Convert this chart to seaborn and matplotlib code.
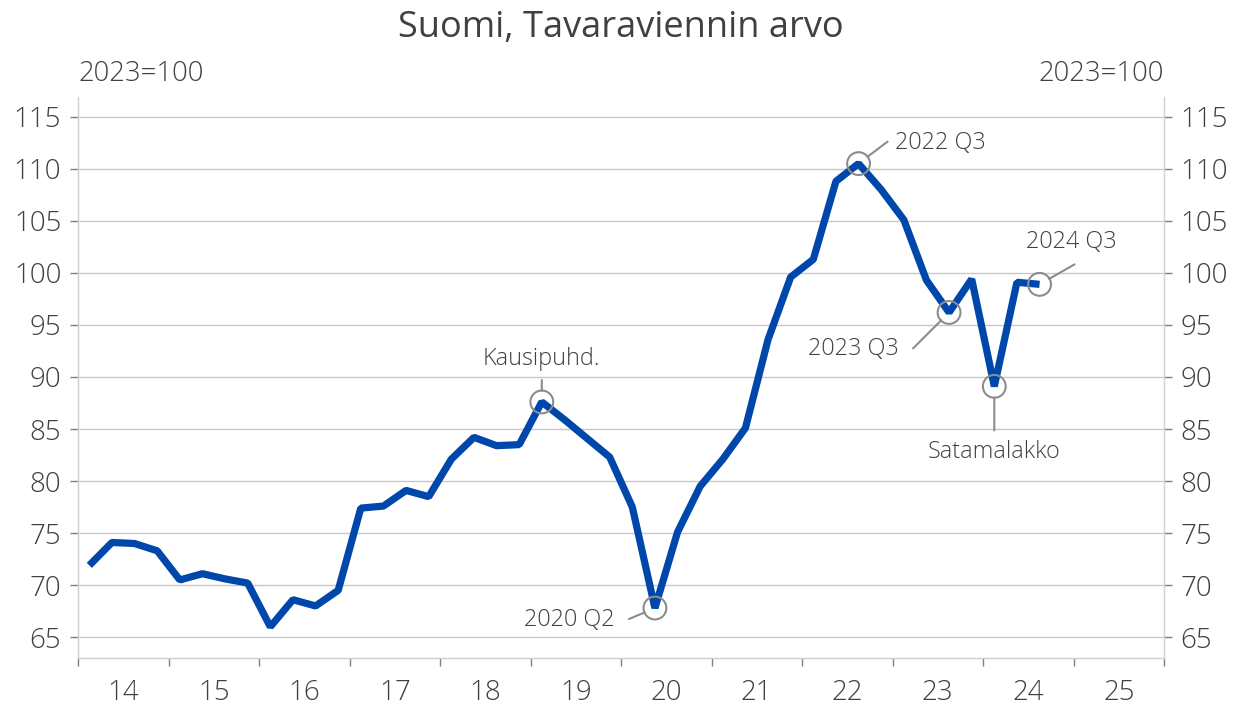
import matplotlib
matplotlib.use("Agg")
import matplotlib.pyplot as plt
import seaborn as sns
import pandas as pd
import numpy as np

# Quarterly goods export value index, 2023=100
years = [2014] * 4 + [2015] * 4 + [2016] * 4 + [2017] * 4 + [2018] * 4 + \
        [2019] * 4 + [2020] * 4 + [2021] * 4 + [2022] * 4 + [2023] * 4 + [2024] * 3
quarters = [1, 2, 3, 4] * 10 + [1, 2, 3]
values = [71.9, 74.1, 74.0, 73.3,
          70.5, 71.1, 70.6, 70.2,
          66.0, 68.6, 68.0, 69.5,
          77.4, 77.6, 79.1, 78.5,
          82.1, 84.2, 83.4, 83.5,
          87.6, 85.9, 84.1, 82.3,
          77.5, 67.8, 75.1, 79.5,
          82.1, 85.1, 93.6, 99.6,
          101.3, 108.8, 110.5, 108.0,
          105.1, 99.3, 96.2, 99.4,
          89.1, 99.1, 98.9]

tick_years = list(range(2014, 2027))
year_labels = ["14", "15", "16", "17", "18", "19", "20", "21", "22", "23", "24", "25"]
y_ticks = [65, 70, 75, 80, 85, 90, 95, 100, 105, 110, 115]

# (year, quarter, label)
notes = [(2019, 1, "Kausipuhd."),
         (2020, 2, "2020 Q2"),
         (2022, 3, "2022 Q3"),
         (2023, 3, "2023 Q3"),
         (2024, 1, "Satamalakko"),
         (2024, 3, "2024 Q3")]

TEXT = "#404040"
GREY = "#8c8c8c"
BLUE = "#0047AB"

sns.set_style("white")
plt.rcParams['font.family'] = ['Open Sans', 'DejaVu Sans']
plt.rcParams['font.weight'] = 'light'

df = pd.DataFrame({"year": years, "quarter": quarters, "value": values})
df["t"] = df["year"] + (df["quarter"] - 0.5) / 4

fig = plt.figure(figsize=(12.36, 7.06), dpi=100)
ax = fig.add_axes([78 / 1236, 48 / 706, (1164 - 78) / 1236, (658 - 97) / 706])

sns.lineplot(data=df, x="t", y="value", ax=ax, color=BLUE, linewidth=5.2,
             solid_joinstyle="bevel", solid_capstyle="butt", zorder=3)

ax.set_xlim(2014, 2026)
ax.set_ylim(63, 116.9)
ax.set_xlabel("")
ax.set_ylabel("")

ax.set_yticks(y_ticks)
ax.yaxis.grid(True, color="#c8c8c8", linewidth=1)
ax.xaxis.grid(False)
ax.tick_params(axis="y", left=True, right=True, labelleft=True, labelright=True,
               length=6, width=1, color="#7f7f7f", labelsize=20,
               labelcolor=TEXT, pad=6)

ax.set_xticks(tick_years)
ax.set_xticklabels([])
ax.set_xticks([y + 0.5 for y in tick_years[:-1]], minor=True)
ax.set_xticklabels(year_labels, minor=True)
ax.tick_params(axis="x", which="major", length=6, width=1, color="#7f7f7f",
               direction="out", bottom=True)
ax.tick_params(axis="x", which="minor", length=0, labelsize=20,
               labelcolor=TEXT, pad=15)

for side in ["left", "right", "bottom"]:
    ax.spines[side].set_visible(True)
    ax.spines[side].set_color("#d0d0d0")
    ax.spines[side].set_linewidth(1)
ax.spines["top"].set_visible(False)

# label offsets in pixels: (line end, text position, ha)
offsets = {
    "Kausipuhd.": ((0, 22), (0, 43), "center"),
    "2020 Q2": ((-26, -11), (-40, -12), "right"),
    "2022 Q3": ((29, 22), (36, 21), "left"),
    "2023 Q3": ((-36, -36), (-50, -37), "right"),
    "Satamalakko": ((0, -44), (0, -66), "center"),
    "2024 Q3": ((35, 20), (32, 42), "center"),
}

for yr, q, label in notes:
    row = df[(df["year"] == yr) & (df["quarter"] == q)].iloc[0]
    pt = (row["t"], row["value"])
    ax.scatter([pt[0]], [pt[1]], s=270, facecolors="none", edgecolors=GREY,
               linewidths=1.5, zorder=4)
    line_end, text_pos, ha = offsets[label]
    ax.annotate("", xy=pt, xytext=line_end, textcoords="offset pixels",
                arrowprops=dict(arrowstyle="-", color=GREY, lw=1.5,
                                shrinkA=0, shrinkB=8))
    ax.annotate(label, xy=pt, xytext=text_pos, textcoords="offset pixels",
                ha=ha, va="center", fontsize=16.8, color=TEXT)

ax.annotate("2023=100", xy=(0, 1), xycoords="axes fraction", xytext=(0, 23),
            textcoords="offset pixels", ha="left", va="center",
            fontsize=19.8, color=TEXT)
ax.annotate("2023=100", xy=(1, 1), xycoords="axes fraction", xytext=(0, 23),
            textcoords="offset pixels", ha="right", va="center",
            fontsize=19.8, color=TEXT)

fig.text(0.502, 1 - 28 / 706, "Suomi, Tavaraviennin arvo", ha="center",
         va="center", fontsize=26, fontweight="normal", color=TEXT)

fig.savefig("out.png", dpi=100)
